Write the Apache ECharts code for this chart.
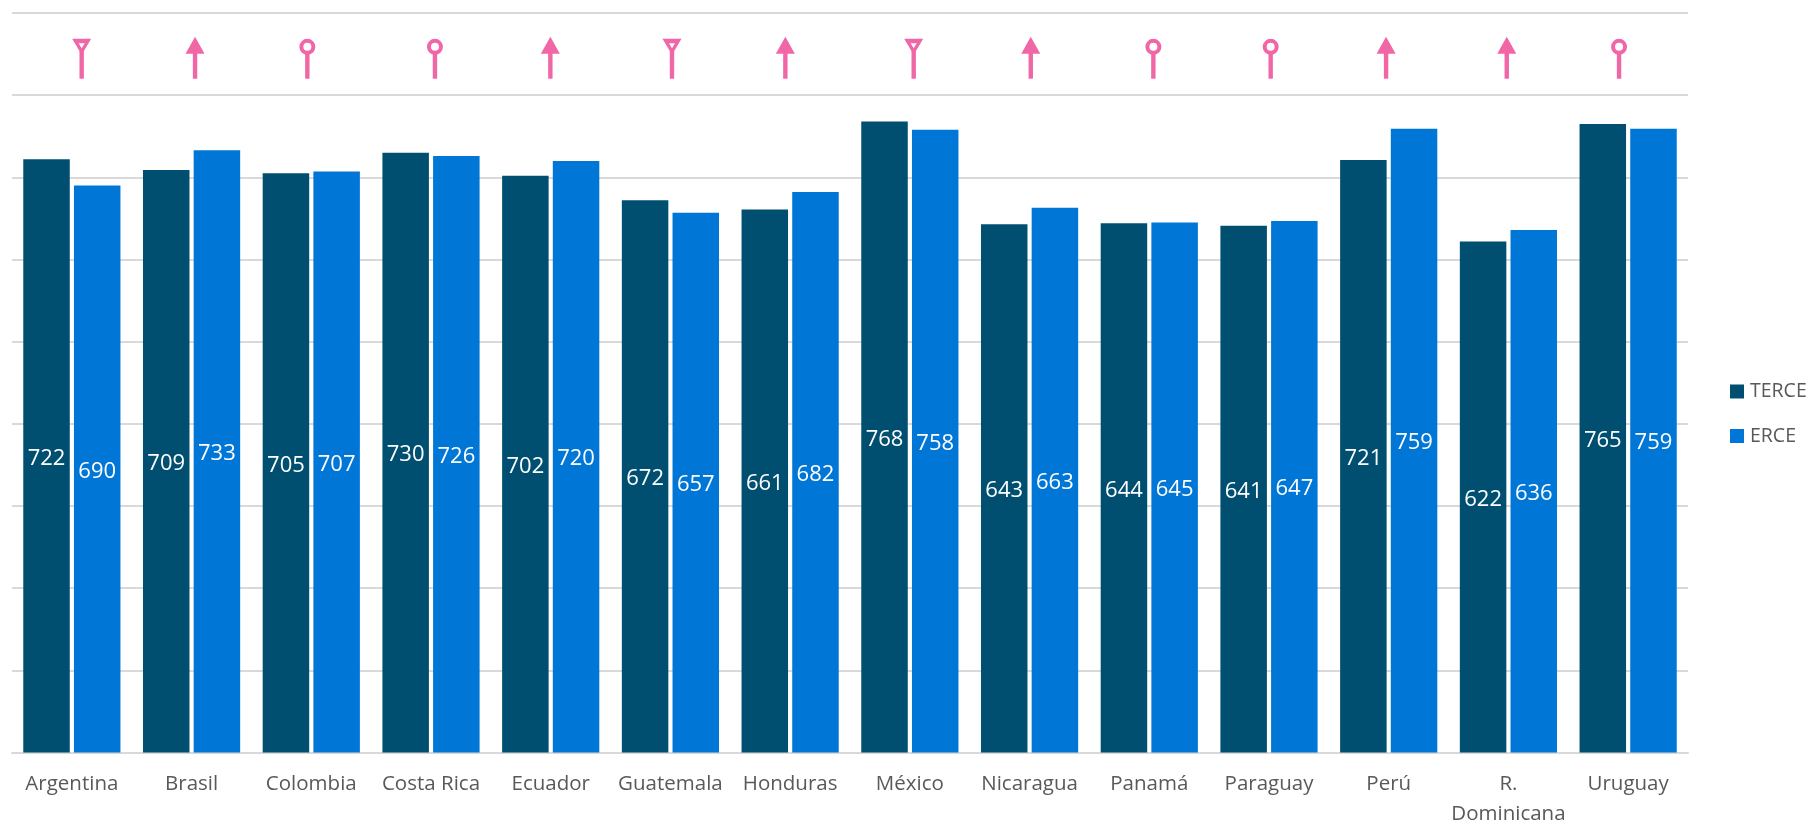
<!DOCTYPE html>
<html><head><meta charset="utf-8">
<style>html,body{margin:0;padding:0;background:#fff}#c{width:1812px;height:823px}</style>
<script src="https://cdn.jsdelivr.net/npm/echarts@6/dist/echarts.min.js"></script>
</head><body><div id="c"></div>
<script>
const categories = ['Argentina','Brasil','Colombia','Costa Rica','Ecuador','Guatemala','Honduras','México','Nicaragua','Panamá','Paraguay','Perú','R.\nDominicana','Uruguay'];
const terce = [722,709,705,730,702,672,661,768,643,644,641,721,622,765];
const erce = [690,733,707,726,720,657,682,758,663,645,647,759,636,759];
const axisTicks = [0,100,200,300,400,500,600,700,800,900];
const markerKinds = ['down','up','same','same','up','down','up','down','up','same','same','up','up','same'];
const markerPlaces = [0.582,1.529,2.467,3.533,4.497,5.513,6.460,7.532,8.510,9.534,10.514,11.478,12.486,13.424];
const markerBase = 820;
const markerTop = 871;
const pink = '#F066A6';
const chart = echarts.init(document.getElementById('c'));
const textFont = '"Open Sans"';
chart.setOption({
  animation:false,
  backgroundColor:'#fff',
  grid:{left:12,right:124,top:13,bottom:70.5,outerBoundsMode:'none'},
  legend:{orient:'vertical',left:1730,top:379,padding:0,itemWidth:14,itemHeight:14,itemGap:19.5,itemStyle:{borderWidth:0},
    icon:'rect',data:['TERCE','ERCE'],
    textStyle:{fontFamily:textFont,fontSize:19.5,lineHeight:25,color:'#595959',padding:[0,0,0,1]}},
  xAxis:[
    {type:'category',data:categories,axisTick:{show:false},
     axisLine:{lineStyle:{color:'#d9d9d9',width:2}},
     axisLabel:{fontFamily:textFont,fontSize:20.5,color:'#595959',margin:17,lineHeight:30,interval:0,verticalAlign:'top'}},
    {type:'value',min:0,max:14,show:false}
  ],
  yAxis:{type:'value',min:axisTicks[0],max:axisTicks[axisTicks.length-1],interval:axisTicks[1]-axisTicks[0],
    axisLabel:{show:false},axisLine:{show:false},axisTick:{show:false},
    splitLine:{lineStyle:{color:'#d9d9d9',width:2}}},
  series:[
    {name:'TERCE',type:'bar',data:terce,barWidth:46.5,barGap:'9%',itemStyle:{color:'#004F70'},
     label:{show:true,position:'inside',offset:[0,2.5],color:'#fff',fontFamily:textFont,fontSize:22}},
    {name:'ERCE',type:'bar',data:erce,barWidth:46.5,barGap:'9%',itemStyle:{color:'#0076D6'},
     label:{show:true,position:'inside',offset:[0,2.5],color:'#fff',fontFamily:textFont,fontSize:22}},
    {name:'change',type:'custom',xAxisIndex:1,yAxisIndex:0,silent:true,z:5,
     data:markerPlaces.map((p,i)=>[p,markerBase,i]),
     encode:{x:0,y:1},
     renderItem(params,api){
       const x0=api.value(0), kind=markerKinds[api.value(2)];
       const b=api.coord([x0,markerBase]), t=api.coord([x0,markerTop]);
       const x=b[0], y0=b[1], y1=t[1];
       const kids=[{type:'rect',shape:{x:x-2.2,y:y1+14,width:4.4,height:y0-y1-14},style:{fill:pink}}];
       if(kind==='up'){
         kids.push({type:'polygon',shape:{points:[[x,y1],[x-9.5,y1+17],[x+9.5,y1+17]]},style:{fill:pink}});
       } else if(kind==='same'){
         kids.push({type:'circle',shape:{cx:x,cy:y1+10,r:6},style:{fill:'#fff',stroke:pink,lineWidth:4}});
       } else {
         kids.push({type:'polygon',shape:{points:[[x-9.5,y1+2],[x+9.5,y1+2],[x,y1+18]]},style:{fill:pink}});
         kids.push({type:'polygon',shape:{points:[[x-3,y1+6.5],[x+3,y1+6.5],[x,y1+11.5]]},style:{fill:'#fff'}});
       }
       return {type:'group',children:kids};
     }}
  ]
});
</script></body></html>
